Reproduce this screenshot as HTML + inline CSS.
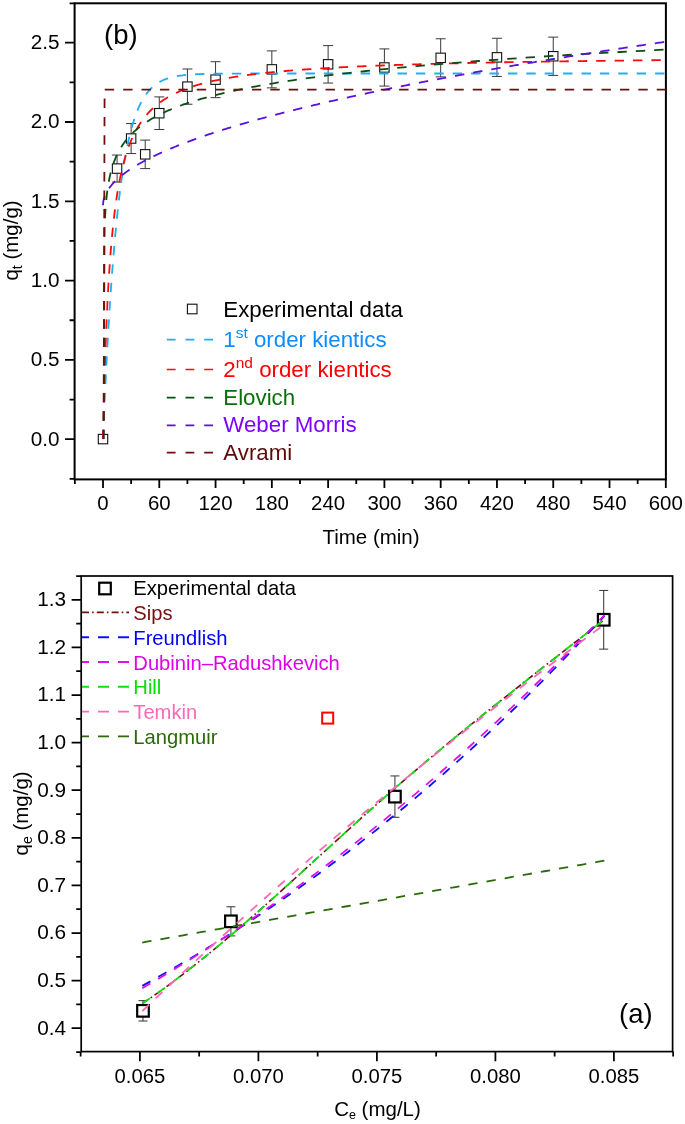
<!DOCTYPE html>
<html lang="en">
<head>
<meta charset="utf-8">
<title>Adsorption kinetics and isotherm models</title>
<style>
html,body{margin:0;padding:0;background:#fff;}
body{width:685px;height:1124px;overflow:hidden;}
svg{display:block;font-family:"Liberation Sans", Arial, Helvetica, sans-serif;will-change:transform;}
</style>
</head>
<body>
<svg width="685" height="1124" viewBox="0 0 685 1124">
<rect width="685" height="1124" fill="#fff"/>
<g id="plot-b">
<rect x="74.6" y="3.3" width="591.3" height="476.1" fill="none" stroke="#000" stroke-width="2.0"/>
<path d="M74.6 478.85h-5M74.6 439.2h-9.6M74.6 399.55h-5M74.6 359.9h-9.6M74.6 320.25h-5M74.6 280.6h-9.6M74.6 240.95h-5M74.6 201.3h-9.6M74.6 161.65h-5M74.6 122h-9.6M74.6 82.35h-5M74.6 42.7h-9.6M74.6 3.3h-5M74.86 479.4v4.6M103 479.4v8.6M131.14 479.4v4.6M159.28 479.4v8.6M187.42 479.4v4.6M215.56 479.4v8.6M243.7 479.4v4.6M271.84 479.4v8.6M299.98 479.4v4.6M328.12 479.4v8.6M356.26 479.4v4.6M384.4 479.4v8.6M412.54 479.4v4.6M440.68 479.4v8.6M468.82 479.4v4.6M496.96 479.4v8.6M525.1 479.4v4.6M553.24 479.4v8.6M581.38 479.4v4.6M609.52 479.4v8.6M637.66 479.4v4.6M665.8 479.4v8.6" fill="none" stroke="#000" stroke-width="1.8"/>
<g font-size="20.4" fill="#000">
<text x="59.4" y="445.6" text-anchor="end" font-size="20.7">0.0</text>
<text x="59.4" y="366.3" text-anchor="end" font-size="20.7">0.5</text>
<text x="59.4" y="287" text-anchor="end" font-size="20.7">1.0</text>
<text x="59.4" y="207.7" text-anchor="end" font-size="20.7">1.5</text>
<text x="59.4" y="128.4" text-anchor="end" font-size="20.7">2.0</text>
<text x="59.4" y="49.1" text-anchor="end" font-size="20.7">2.5</text>
<text x="103" y="510.2" text-anchor="middle">0</text>
<text x="159.28" y="510.2" text-anchor="middle">60</text>
<text x="215.56" y="510.2" text-anchor="middle">120</text>
<text x="271.84" y="510.2" text-anchor="middle">180</text>
<text x="328.12" y="510.2" text-anchor="middle">240</text>
<text x="384.4" y="510.2" text-anchor="middle">300</text>
<text x="440.68" y="510.2" text-anchor="middle">360</text>
<text x="496.96" y="510.2" text-anchor="middle">420</text>
<text x="553.24" y="510.2" text-anchor="middle">480</text>
<text x="609.52" y="510.2" text-anchor="middle">540</text>
<text x="665.8" y="510.2" text-anchor="middle">600</text>
</g>
<text x="371" y="544.3" font-size="20.5" text-anchor="middle">Time (min)</text>
<text transform="translate(17.5 240.5) rotate(-90)" font-size="20.5" text-anchor="middle">q<tspan font-size="14" dy="4">t</tspan><tspan dy="-4"> (mg/g)</tspan></text>
<text x="104" y="44" font-size="27.5">(b)</text>
<path d="M117.07 155.05V182.1M112.07 155.05h10M112.07 182.1h10M131.14 123.49V153.55M126.14 123.49h10M126.14 153.55h10M145.21 140.1V168.58M140.21 140.1h10M140.21 168.58h10M159.28 96.91V129.5M154.28 96.91h10M154.28 129.5h10M187.42 69.01V104.25M182.42 69.01h10M182.42 104.25h10M215.56 61.7V97.64M210.56 61.7h10M210.56 97.64h10M271.84 50.9V87.87M266.84 50.9h10M266.84 87.87h10M328.12 45.59V83.06M323.12 45.59h10M323.12 83.06h10M384.4 48.91V86.07M379.4 48.91h10M379.4 86.07h10M440.68 38.77V76.9M435.68 38.77h10M435.68 76.9h10M496.96 38.28V76.45M491.96 38.28h10M491.96 76.45h10M553.24 37.11V75.4M548.24 37.11h10M548.24 75.4h10" fill="none" stroke="#3a3a3a" stroke-width="1"/>
<rect x="98.3" y="434.4" width="9.4" height="9.4" fill="#fff" stroke="#111" stroke-width="1.1"/>
<rect x="112.37" y="163.88" width="9.4" height="9.4" fill="#fff" stroke="#111" stroke-width="1.1"/>
<rect x="126.44" y="133.82" width="9.4" height="9.4" fill="#fff" stroke="#111" stroke-width="1.1"/>
<rect x="140.51" y="149.64" width="9.4" height="9.4" fill="#fff" stroke="#111" stroke-width="1.1"/>
<rect x="154.58" y="108.51" width="9.4" height="9.4" fill="#fff" stroke="#111" stroke-width="1.1"/>
<rect x="182.72" y="81.93" width="9.4" height="9.4" fill="#fff" stroke="#111" stroke-width="1.1"/>
<rect x="210.86" y="74.97" width="9.4" height="9.4" fill="#fff" stroke="#111" stroke-width="1.1"/>
<rect x="267.14" y="64.69" width="9.4" height="9.4" fill="#fff" stroke="#111" stroke-width="1.1"/>
<rect x="323.42" y="59.62" width="9.4" height="9.4" fill="#fff" stroke="#111" stroke-width="1.1"/>
<rect x="379.7" y="62.79" width="9.4" height="9.4" fill="#fff" stroke="#111" stroke-width="1.1"/>
<rect x="435.98" y="53.14" width="9.4" height="9.4" fill="#fff" stroke="#111" stroke-width="1.1"/>
<rect x="492.26" y="52.66" width="9.4" height="9.4" fill="#fff" stroke="#111" stroke-width="1.1"/>
<rect x="548.54" y="51.56" width="9.4" height="9.4" fill="#fff" stroke="#111" stroke-width="1.1"/>
<path d="M103 439.1 L103.23 433.44 L103.47 427.87 L103.7 422.38 L103.94 416.98 L104.17 411.67 L104.41 406.43 L104.64 401.28 L104.88 396.21 L105.11 391.21 L105.34 386.29 L105.58 381.45 L105.81 376.68 L106.05 371.99 L106.28 367.37 L106.52 362.82 L106.75 358.34 L106.99 353.93 L107.22 349.59 L107.46 345.32 L107.69 341.11 L107.92 336.97 L108.16 332.89 L108.39 328.88 L108.63 324.92 L108.86 321.03 L109.1 317.2 L109.33 313.43 L109.57 309.71 L109.8 306.06 L110.03 302.46 L110.27 298.91 L110.5 295.42 L110.74 291.99 L110.97 288.61 L111.21 285.28 L111.44 282 L111.68 278.77 L111.91 275.6 L112.15 272.47 L112.38 269.39 L112.61 266.36 L112.85 263.37 L113.08 260.43 L113.32 257.54 L113.55 254.69 L113.79 251.88 L114.02 249.12 L114.26 246.4 L114.49 243.73 L114.72 241.09 L114.96 238.5 L115.19 235.94 L115.43 233.43 L115.66 230.95 L115.9 228.52 L116.13 226.12 L116.37 223.76 L116.6 221.43 L116.84 219.14 L117.07 216.89 L117.3 214.67 L117.54 212.48 L117.77 210.33 L118.01 208.21 L118.24 206.13 L118.48 204.07 L118.71 202.05 L118.95 200.06 L119.18 198.1 L119.41 196.18 L119.65 194.28 L119.88 192.41 L120.12 190.57 L120.35 188.75 L120.59 186.97 L120.82 185.21 L121.06 183.48 L121.29 181.78 L121.53 180.11 L121.76 178.46 L121.99 176.83 L122.23 175.23 L122.46 173.66 L122.7 172.11 L122.93 170.58 L123.17 169.08 L123.4 167.6 L123.64 166.14 L123.87 164.71 L124.11 163.3 L124.34 161.91 L124.57 160.54 L124.81 159.19 L125.04 157.86 L125.28 156.56 L125.51 155.27 L125.75 154.01 L125.98 152.76 L126.22 151.53 L126.45 150.33 L126.68 149.14 L126.92 147.97 L127.15 146.81 L127.39 145.68 L127.62 144.56 L127.86 143.46 L128.09 142.38 L128.33 141.31 L128.56 140.26 L128.79 139.23 L129.03 138.21 L129.26 137.21 L129.5 136.22 L129.73 135.25 L129.97 134.3 L130.2 133.36 L130.44 132.43 L130.67 131.52 L130.91 130.62 L131.14 129.73 L131.61 128.01 L132.95 123.36 L134.29 119.11 L135.63 115.23 L136.96 111.67 L138.3 108.42 L139.64 105.44 L140.98 102.72 L142.32 100.23 L143.66 97.95 L145 95.87 L146.34 93.96 L147.67 92.22 L149.01 90.62 L150.35 89.16 L151.69 87.83 L153.03 86.61 L154.37 85.49 L155.71 84.47 L157.05 83.54 L158.39 82.68 L159.72 81.9 L161.06 81.18 L162.4 80.53 L163.74 79.93 L165.08 79.38 L166.42 78.88 L167.76 78.42 L169.1 78 L170.43 77.62 L171.77 77.27 L173.11 76.95 L174.45 76.65 L175.79 76.38 L177.13 76.14 L178.47 75.91 L179.81 75.71 L181.15 75.52 L182.48 75.35 L183.82 75.19 L185.16 75.05 L186.5 74.91 L187.84 74.79 L189.18 74.68 L190.52 74.58 L191.86 74.49 L193.19 74.41 L194.53 74.33 L195.87 74.26 L197.21 74.19 L198.55 74.13 L199.89 74.08 L201.23 74.03 L202.57 73.99 L203.91 73.94 L205.24 73.91 L206.58 73.87 L207.92 73.84 L209.26 73.81 L210.6 73.78 L211.94 73.76 L213.28 73.74 L214.62 73.72 L215.95 73.7 L217.29 73.68 L218.63 73.67 L219.97 73.65 L221.31 73.64 L222.65 73.63 L223.99 73.62 L225.33 73.61 L226.67 73.6 L228 73.59 L229.34 73.58 L230.68 73.57 L232.02 73.57 L233.36 73.56 L234.7 73.56 L236.04 73.55 L237.38 73.55 L238.71 73.54 L240.05 73.54 L241.39 73.54 L242.73 73.53 L244.07 73.53 L245.41 73.53 L246.75 73.53 L248.09 73.52 L249.43 73.52 L250.76 73.52 L252.1 73.52 L253.44 73.52 L254.78 73.51 L256.12 73.51 L257.46 73.51 L258.8 73.51 L260.14 73.51 L261.47 73.51 L262.81 73.51 L264.15 73.51 L265.49 73.51 L266.83 73.51 L268.17 73.51 L269.51 73.51 L270.85 73.5 L272.19 73.5 L273.52 73.5 L274.86 73.5 L276.2 73.5 L277.54 73.5 L278.88 73.5 L280.22 73.5 L281.56 73.5 L282.9 73.5 L284.24 73.5 L285.57 73.5 L286.91 73.5 L288.25 73.5 L289.59 73.5 L290.93 73.5 L292.27 73.5 L293.61 73.5 L294.95 73.5 L296.28 73.5 L297.62 73.5 L298.96 73.5 L300.3 73.5 L301.64 73.5 L302.98 73.5 L304.32 73.5 L305.66 73.5 L307 73.5 L308.33 73.5 L309.67 73.5 L311.01 73.5 L312.35 73.5 L313.69 73.5 L315.03 73.5 L316.37 73.5 L317.71 73.5 L319.04 73.5 L320.38 73.5 L321.72 73.5 L323.06 73.5 L324.4 73.5 L325.74 73.5 L327.08 73.5 L328.42 73.5 L329.76 73.5 L331.09 73.5 L332.43 73.5 L333.77 73.5 L335.11 73.5 L336.45 73.5 L337.79 73.5 L339.13 73.5 L340.47 73.5 L341.8 73.5 L343.14 73.5 L344.48 73.5 L345.82 73.5 L347.16 73.5 L348.5 73.5 L349.84 73.5 L351.18 73.5 L352.52 73.5 L353.85 73.5 L355.19 73.5 L356.53 73.5 L357.87 73.5 L359.21 73.5 L360.55 73.5 L361.89 73.5 L363.23 73.5 L364.56 73.5 L365.9 73.5 L367.24 73.5 L368.58 73.5 L369.92 73.5 L371.26 73.5 L372.6 73.5 L373.94 73.5 L375.28 73.5 L376.61 73.5 L377.95 73.5 L379.29 73.5 L380.63 73.5 L381.97 73.5 L383.31 73.5 L384.65 73.5 L385.99 73.5 L387.32 73.5 L388.66 73.5 L390 73.5 L391.34 73.5 L392.68 73.5 L394.02 73.5 L395.36 73.5 L396.7 73.5 L398.04 73.5 L399.37 73.5 L400.71 73.5 L402.05 73.5 L403.39 73.5 L404.73 73.5 L406.07 73.5 L407.41 73.5 L408.75 73.5 L410.08 73.5 L411.42 73.5 L412.76 73.5 L414.1 73.5 L415.44 73.5 L416.78 73.5 L418.12 73.5 L419.46 73.5 L420.8 73.5 L422.13 73.5 L423.47 73.5 L424.81 73.5 L426.15 73.5 L427.49 73.5 L428.83 73.5 L430.17 73.5 L431.51 73.5 L432.84 73.5 L434.18 73.5 L435.52 73.5 L436.86 73.5 L438.2 73.5 L439.54 73.5 L440.88 73.5 L442.22 73.5 L443.56 73.5 L444.89 73.5 L446.23 73.5 L447.57 73.5 L448.91 73.5 L450.25 73.5 L451.59 73.5 L452.93 73.5 L454.27 73.5 L455.6 73.5 L456.94 73.5 L458.28 73.5 L459.62 73.5 L460.96 73.5 L462.3 73.5 L463.64 73.5 L464.98 73.5 L466.32 73.5 L467.65 73.5 L468.99 73.5 L470.33 73.5 L471.67 73.5 L473.01 73.5 L474.35 73.5 L475.69 73.5 L477.03 73.5 L478.36 73.5 L479.7 73.5 L481.04 73.5 L482.38 73.5 L483.72 73.5 L485.06 73.5 L486.4 73.5 L487.74 73.5 L489.08 73.5 L490.41 73.5 L491.75 73.5 L493.09 73.5 L494.43 73.5 L495.77 73.5 L497.11 73.5 L498.45 73.5 L499.79 73.5 L501.12 73.5 L502.46 73.5 L503.8 73.5 L505.14 73.5 L506.48 73.5 L507.82 73.5 L509.16 73.5 L510.5 73.5 L511.84 73.5 L513.17 73.5 L514.51 73.5 L515.85 73.5 L517.19 73.5 L518.53 73.5 L519.87 73.5 L521.21 73.5 L522.55 73.5 L523.88 73.5 L525.22 73.5 L526.56 73.5 L527.9 73.5 L529.24 73.5 L530.58 73.5 L531.92 73.5 L533.26 73.5 L534.6 73.5 L535.93 73.5 L537.27 73.5 L538.61 73.5 L539.95 73.5 L541.29 73.5 L542.63 73.5 L543.97 73.5 L545.31 73.5 L546.64 73.5 L547.98 73.5 L549.32 73.5 L550.66 73.5 L552 73.5 L553.34 73.5 L554.68 73.5 L556.02 73.5 L557.36 73.5 L558.69 73.5 L560.03 73.5 L561.37 73.5 L562.71 73.5 L564.05 73.5 L565.39 73.5 L566.73 73.5 L568.07 73.5 L569.4 73.5 L570.74 73.5 L572.08 73.5 L573.42 73.5 L574.76 73.5 L576.1 73.5 L577.44 73.5 L578.78 73.5 L580.12 73.5 L581.45 73.5 L582.79 73.5 L584.13 73.5 L585.47 73.5 L586.81 73.5 L588.15 73.5 L589.49 73.5 L590.83 73.5 L592.16 73.5 L593.5 73.5 L594.84 73.5 L596.18 73.5 L597.52 73.5 L598.86 73.5 L600.2 73.5 L601.54 73.5 L602.88 73.5 L604.21 73.5 L605.55 73.5 L606.89 73.5 L608.23 73.5 L609.57 73.5 L610.91 73.5 L612.25 73.5 L613.59 73.5 L614.92 73.5 L616.26 73.5 L617.6 73.5 L618.94 73.5 L620.28 73.5 L621.62 73.5 L622.96 73.5 L624.3 73.5 L625.64 73.5 L626.97 73.5 L628.31 73.5 L629.65 73.5 L630.99 73.5 L632.33 73.5 L633.67 73.5 L635.01 73.5 L636.35 73.5 L637.68 73.5 L639.02 73.5 L640.36 73.5 L641.7 73.5 L643.04 73.5 L644.38 73.5 L645.72 73.5 L647.06 73.5 L648.4 73.5 L649.73 73.5 L651.07 73.5 L652.41 73.5 L653.75 73.5 L655.09 73.5 L656.43 73.5 L657.77 73.5 L659.11 73.5 L660.44 73.5 L661.78 73.5 L663.12 73.5 L664.46 73.5 L665.8 73.5" fill="none" stroke="#1eaefa" stroke-width="1.8" stroke-dasharray="9.4 9.0"/>
<path d="M103 439.1 L103.23 428.27 L103.47 418.03 L103.7 408.33 L103.94 399.14 L104.17 390.42 L104.41 382.12 L104.64 374.23 L104.88 366.71 L105.11 359.53 L105.34 352.68 L105.58 346.13 L105.81 339.86 L106.05 333.85 L106.28 328.09 L106.52 322.57 L106.75 317.26 L106.99 312.16 L107.22 307.25 L107.46 302.53 L107.69 297.98 L107.92 293.6 L108.16 289.37 L108.39 285.28 L108.63 281.34 L108.86 277.53 L109.1 273.85 L109.33 270.28 L109.57 266.83 L109.8 263.49 L110.03 260.25 L110.27 257.11 L110.5 254.07 L110.74 251.11 L110.97 248.24 L111.21 245.46 L111.44 242.75 L111.68 240.12 L111.91 237.56 L112.15 235.07 L112.38 232.65 L112.61 230.29 L112.85 228 L113.08 225.76 L113.32 223.58 L113.55 221.45 L113.79 219.38 L114.02 217.36 L114.26 215.39 L114.49 213.46 L114.72 211.58 L114.96 209.75 L115.19 207.95 L115.43 206.2 L115.66 204.49 L115.9 202.82 L116.13 201.18 L116.37 199.58 L116.6 198.01 L116.84 196.48 L117.07 194.98 L117.3 193.51 L117.54 192.07 L117.77 190.66 L118.01 189.28 L118.24 187.92 L118.48 186.6 L118.71 185.3 L118.95 184.02 L119.18 182.77 L119.41 181.55 L119.65 180.34 L119.88 179.16 L120.12 178.01 L120.35 176.87 L120.59 175.75 L120.82 174.66 L121.06 173.58 L121.29 172.52 L121.53 171.49 L121.76 170.46 L121.99 169.46 L122.23 168.48 L122.46 167.51 L122.7 166.56 L122.93 165.62 L123.17 164.7 L123.4 163.79 L123.64 162.9 L123.87 162.03 L124.11 161.16 L124.34 160.31 L124.57 159.48 L124.81 158.66 L125.04 157.85 L125.28 157.05 L125.51 156.27 L125.75 155.49 L125.98 154.73 L126.22 153.98 L126.45 153.24 L126.68 152.52 L126.92 151.8 L127.15 151.09 L127.39 150.4 L127.62 149.71 L127.86 149.03 L128.09 148.37 L128.33 147.71 L128.56 147.06 L128.79 146.42 L129.03 145.79 L129.26 145.17 L129.5 144.56 L129.73 143.95 L129.97 143.35 L130.2 142.76 L130.44 142.18 L130.67 141.61 L130.91 141.04 L131.14 140.48 L131.61 139.39 L132.95 136.4 L134.29 133.63 L135.63 131.03 L136.96 128.6 L138.3 126.32 L139.64 124.17 L140.98 122.15 L142.32 120.25 L143.66 118.45 L145 116.74 L146.34 115.13 L147.67 113.59 L149.01 112.13 L150.35 110.75 L151.69 109.42 L153.03 108.16 L154.37 106.96 L155.71 105.81 L157.05 104.7 L158.39 103.65 L159.72 102.64 L161.06 101.67 L162.4 100.73 L163.74 99.84 L165.08 98.98 L166.42 98.15 L167.76 97.35 L169.1 96.58 L170.43 95.84 L171.77 95.12 L173.11 94.43 L174.45 93.76 L175.79 93.11 L177.13 92.48 L178.47 91.88 L179.81 91.29 L181.15 90.72 L182.48 90.17 L183.82 89.64 L185.16 89.12 L186.5 88.61 L187.84 88.13 L189.18 87.65 L190.52 87.19 L191.86 86.74 L193.19 86.3 L194.53 85.88 L195.87 85.46 L197.21 85.06 L198.55 84.67 L199.89 84.29 L201.23 83.91 L202.57 83.55 L203.91 83.19 L205.24 82.85 L206.58 82.51 L207.92 82.18 L209.26 81.86 L210.6 81.54 L211.94 81.24 L213.28 80.94 L214.62 80.64 L215.95 80.36 L217.29 80.07 L218.63 79.8 L219.97 79.53 L221.31 79.27 L222.65 79.01 L223.99 78.76 L225.33 78.51 L226.67 78.27 L228 78.03 L229.34 77.8 L230.68 77.57 L232.02 77.35 L233.36 77.13 L234.7 76.91 L236.04 76.7 L237.38 76.49 L238.71 76.29 L240.05 76.09 L241.39 75.9 L242.73 75.7 L244.07 75.51 L245.41 75.33 L246.75 75.15 L248.09 74.97 L249.43 74.79 L250.76 74.62 L252.1 74.45 L253.44 74.28 L254.78 74.12 L256.12 73.96 L257.46 73.8 L258.8 73.64 L260.14 73.49 L261.47 73.34 L262.81 73.19 L264.15 73.04 L265.49 72.9 L266.83 72.76 L268.17 72.62 L269.51 72.48 L270.85 72.34 L272.19 72.21 L273.52 72.08 L274.86 71.95 L276.2 71.82 L277.54 71.7 L278.88 71.57 L280.22 71.45 L281.56 71.33 L282.9 71.21 L284.24 71.09 L285.57 70.98 L286.91 70.86 L288.25 70.75 L289.59 70.64 L290.93 70.53 L292.27 70.43 L293.61 70.32 L294.95 70.21 L296.28 70.11 L297.62 70.01 L298.96 69.91 L300.3 69.81 L301.64 69.71 L302.98 69.61 L304.32 69.52 L305.66 69.42 L307 69.33 L308.33 69.24 L309.67 69.15 L311.01 69.06 L312.35 68.97 L313.69 68.88 L315.03 68.8 L316.37 68.71 L317.71 68.63 L319.04 68.54 L320.38 68.46 L321.72 68.38 L323.06 68.3 L324.4 68.22 L325.74 68.14 L327.08 68.06 L328.42 67.99 L329.76 67.91 L331.09 67.84 L332.43 67.76 L333.77 67.69 L335.11 67.62 L336.45 67.54 L337.79 67.47 L339.13 67.4 L340.47 67.33 L341.8 67.26 L343.14 67.2 L344.48 67.13 L345.82 67.06 L347.16 67 L348.5 66.93 L349.84 66.87 L351.18 66.8 L352.52 66.74 L353.85 66.68 L355.19 66.62 L356.53 66.56 L357.87 66.5 L359.21 66.44 L360.55 66.38 L361.89 66.32 L363.23 66.26 L364.56 66.2 L365.9 66.15 L367.24 66.09 L368.58 66.03 L369.92 65.98 L371.26 65.92 L372.6 65.87 L373.94 65.81 L375.28 65.76 L376.61 65.71 L377.95 65.66 L379.29 65.61 L380.63 65.55 L381.97 65.5 L383.31 65.45 L384.65 65.4 L385.99 65.35 L387.32 65.3 L388.66 65.26 L390 65.21 L391.34 65.16 L392.68 65.11 L394.02 65.07 L395.36 65.02 L396.7 64.97 L398.04 64.93 L399.37 64.88 L400.71 64.84 L402.05 64.8 L403.39 64.75 L404.73 64.71 L406.07 64.66 L407.41 64.62 L408.75 64.58 L410.08 64.54 L411.42 64.5 L412.76 64.45 L414.1 64.41 L415.44 64.37 L416.78 64.33 L418.12 64.29 L419.46 64.25 L420.8 64.21 L422.13 64.17 L423.47 64.14 L424.81 64.1 L426.15 64.06 L427.49 64.02 L428.83 63.98 L430.17 63.95 L431.51 63.91 L432.84 63.87 L434.18 63.84 L435.52 63.8 L436.86 63.76 L438.2 63.73 L439.54 63.69 L440.88 63.66 L442.22 63.62 L443.56 63.59 L444.89 63.56 L446.23 63.52 L447.57 63.49 L448.91 63.46 L450.25 63.42 L451.59 63.39 L452.93 63.36 L454.27 63.32 L455.6 63.29 L456.94 63.26 L458.28 63.23 L459.62 63.2 L460.96 63.17 L462.3 63.14 L463.64 63.1 L464.98 63.07 L466.32 63.04 L467.65 63.01 L468.99 62.98 L470.33 62.95 L471.67 62.92 L473.01 62.9 L474.35 62.87 L475.69 62.84 L477.03 62.81 L478.36 62.78 L479.7 62.75 L481.04 62.72 L482.38 62.7 L483.72 62.67 L485.06 62.64 L486.4 62.61 L487.74 62.59 L489.08 62.56 L490.41 62.53 L491.75 62.51 L493.09 62.48 L494.43 62.45 L495.77 62.43 L497.11 62.4 L498.45 62.38 L499.79 62.35 L501.12 62.33 L502.46 62.3 L503.8 62.28 L505.14 62.25 L506.48 62.23 L507.82 62.2 L509.16 62.18 L510.5 62.15 L511.84 62.13 L513.17 62.11 L514.51 62.08 L515.85 62.06 L517.19 62.04 L518.53 62.01 L519.87 61.99 L521.21 61.97 L522.55 61.94 L523.88 61.92 L525.22 61.9 L526.56 61.88 L527.9 61.85 L529.24 61.83 L530.58 61.81 L531.92 61.79 L533.26 61.77 L534.6 61.74 L535.93 61.72 L537.27 61.7 L538.61 61.68 L539.95 61.66 L541.29 61.64 L542.63 61.62 L543.97 61.6 L545.31 61.58 L546.64 61.56 L547.98 61.54 L549.32 61.51 L550.66 61.49 L552 61.47 L553.34 61.45 L554.68 61.44 L556.02 61.42 L557.36 61.4 L558.69 61.38 L560.03 61.36 L561.37 61.34 L562.71 61.32 L564.05 61.3 L565.39 61.28 L566.73 61.26 L568.07 61.24 L569.4 61.23 L570.74 61.21 L572.08 61.19 L573.42 61.17 L574.76 61.15 L576.1 61.13 L577.44 61.12 L578.78 61.1 L580.12 61.08 L581.45 61.06 L582.79 61.05 L584.13 61.03 L585.47 61.01 L586.81 60.99 L588.15 60.98 L589.49 60.96 L590.83 60.94 L592.16 60.93 L593.5 60.91 L594.84 60.89 L596.18 60.88 L597.52 60.86 L598.86 60.84 L600.2 60.83 L601.54 60.81 L602.88 60.79 L604.21 60.78 L605.55 60.76 L606.89 60.75 L608.23 60.73 L609.57 60.71 L610.91 60.7 L612.25 60.68 L613.59 60.67 L614.92 60.65 L616.26 60.64 L617.6 60.62 L618.94 60.61 L620.28 60.59 L621.62 60.58 L622.96 60.56 L624.3 60.55 L625.64 60.53 L626.97 60.52 L628.31 60.5 L629.65 60.49 L630.99 60.47 L632.33 60.46 L633.67 60.44 L635.01 60.43 L636.35 60.42 L637.68 60.4 L639.02 60.39 L640.36 60.37 L641.7 60.36 L643.04 60.35 L644.38 60.33 L645.72 60.32 L647.06 60.3 L648.4 60.29 L649.73 60.28 L651.07 60.26 L652.41 60.25 L653.75 60.24 L655.09 60.22 L656.43 60.21 L657.77 60.2 L659.11 60.18 L660.44 60.17 L661.78 60.16 L663.12 60.14 L664.46 60.13 L665.8 60.12" fill="none" stroke="#ff0a0a" stroke-width="1.8" stroke-dasharray="9.4 9.0"/>
<path d="M103.6 439.1 L104.54 229.71 L104.56 229.1 L104.58 228.5 L104.6 227.9 L104.62 227.3 L104.64 226.69 L104.67 226.09 L104.69 225.49 L104.71 224.89 L104.74 224.28 L104.76 223.68 L104.79 223.08 L104.81 222.48 L104.84 221.87 L104.87 221.27 L104.89 220.67 L104.92 220.07 L104.95 219.46 L104.98 218.86 L105.01 218.26 L105.04 217.66 L105.07 217.05 L105.1 216.45 L105.13 215.85 L105.17 215.25 L105.2 214.65 L105.24 214.04 L105.27 213.44 L105.31 212.84 L105.34 212.24 L105.38 211.63 L105.42 211.03 L105.46 210.43 L105.5 209.83 L105.54 209.22 L105.58 208.62 L105.63 208.02 L105.67 207.42 L105.71 206.81 L105.76 206.21 L105.81 205.61 L105.86 205.01 L105.9 204.4 L105.95 203.8 L106 203.2 L106.06 202.6 L106.11 201.99 L106.16 201.39 L106.22 200.79 L106.28 200.19 L106.33 199.58 L106.39 198.98 L106.45 198.38 L106.52 197.78 L106.58 197.17 L106.64 196.57 L106.71 195.97 L106.78 195.37 L106.84 194.76 L106.91 194.16 L106.99 193.56 L107.06 192.96 L107.13 192.35 L107.21 191.75 L107.29 191.15 L107.37 190.55 L107.45 189.94 L107.53 189.34 L107.62 188.74 L107.71 188.14 L107.79 187.53 L107.88 186.93 L107.98 186.33 L108.07 185.73 L108.17 185.12 L108.27 184.52 L108.37 183.92 L108.47 183.32 L108.58 182.71 L108.68 182.11 L108.79 181.51 L108.91 180.91 L109.02 180.3 L109.14 179.7 L109.26 179.1 L109.38 178.5 L109.51 177.9 L109.63 177.29 L109.76 176.69 L109.9 176.09 L110.03 175.49 L110.17 174.88 L110.31 174.28 L110.46 173.68 L110.61 173.08 L110.76 172.47 L110.91 171.87 L111.07 171.27 L111.23 170.67 L111.4 170.06 L111.57 169.46 L111.74 168.86 L111.92 168.26 L112.1 167.65 L112.28 167.05 L112.47 166.45 L112.66 165.85 L112.86 165.24 L113.06 164.64 L113.26 164.04 L113.47 163.44 L113.68 162.83 L113.9 162.23 L114.12 161.63 L114.35 161.03 L114.58 160.42 L114.82 159.82 L115.06 159.22 L115.31 158.62 L115.56 158.01 L115.82 157.41 L116.09 156.81 L116.36 156.21 L116.63 155.6 L116.92 155 L117.2 154.4 L117.5 153.8 L117.8 153.19 L118.1 152.59 L118.42 151.99 L118.74 151.39 L119.07 150.78 L119.4 150.18 L119.74 149.58 L120.09 148.98 L120.45 148.37 L120.81 147.77 L121.18 147.17 L121.56 146.57 L121.95 145.96 L122.35 145.36 L122.76 144.76 L123.17 144.16 L123.59 143.55 L124.03 142.95 L124.47 142.35 L124.92 141.75 L125.38 141.15 L125.85 140.54 L126.33 139.94 L126.82 139.34 L127.33 138.74 L127.84 138.13 L128.36 137.53 L128.9 136.93 L129.45 136.33 L130 135.72 L130.58 135.12 L131.16 134.52 L131.75 133.92 L132.36 133.31 L132.99 132.71 L133.62 132.11 L134.27 131.51 L134.93 130.9 L135.61 130.3 L136.3 129.7 L137.01 129.1 L137.73 128.49 L138.47 127.89 L139.22 127.29 L140 126.69 L140.78 126.08 L141.59 125.48 L142.41 124.88 L143.25 124.28 L144.1 123.67 L144.98 123.07 L145.88 122.47 L146.79 121.87 L147.72 121.26 L148.68 120.66 L149.65 120.06 L150.65 119.46 L151.67 118.85 L152.71 118.25 L153.77 117.65 L154.85 117.05 L155.96 116.44 L157.09 115.84 L158.25 115.24 L159.43 114.64 L160.64 114.03 L161.87 113.43 L163.13 112.83 L164.42 112.23 L165.73 111.62 L167.08 111.02 L168.45 110.42 L169.85 109.82 L171.29 109.21 L172.75 108.61 L174.24 108.01 L175.77 107.41 L177.33 106.81 L178.93 106.2 L180.56 105.6 L182.22 105 L183.92 104.4 L185.66 103.79 L187.43 103.19 L189.25 102.59 L191.1 101.99 L192.99 101.38 L194.92 100.78 L196.9 100.18 L198.92 99.58 L200.98 98.97 L203.08 98.37 L205.23 97.77 L207.43 97.17 L209.68 96.56 L211.97 95.96 L214.31 95.36 L216.71 94.76 L219.15 94.15 L221.65 93.55 L224.21 92.95 L226.81 92.35 L229.48 91.74 L232.2 91.14 L234.98 90.54 L237.82 89.94 L240.73 89.33 L243.69 88.73 L246.72 88.13 L249.81 87.53 L252.98 86.92 L256.21 86.32 L259.51 85.72 L262.88 85.12 L266.32 84.51 L269.84 83.91 L273.44 83.31 L277.11 82.71 L280.86 82.1 L284.69 81.5 L288.61 80.9 L292.61 80.3 L296.7 79.69 L300.87 79.09 L305.14 78.49 L309.5 77.89 L313.95 77.28 L318.5 76.68 L323.15 76.08 L327.9 75.48 L332.75 74.87 L337.7 74.27 L342.76 73.67 L347.94 73.07 L353.22 72.46 L358.62 71.86 L364.13 71.26 L369.77 70.66 L375.52 70.06 L381.4 69.45 L387.41 68.85 L393.55 68.25 L399.82 67.65 L406.22 67.04 L412.77 66.44 L419.45 65.84 L426.28 65.24 L433.26 64.63 L440.39 64.03 L447.67 63.43 L455.11 62.83 L462.71 62.22 L470.48 61.62 L478.41 61.02 L486.52 60.42 L494.8 59.81 L503.26 59.21 L511.9 58.61 L520.73 58.01 L529.75 57.4 L538.97 56.8 L548.38 56.2 L558 55.6 L567.83 54.99 L577.87 54.39 L588.12 53.79 L598.6 53.19 L609.3 52.58 L620.24 51.98 L631.41 51.38 L642.83 50.78 L654.49 50.17 L666.4 49.57" fill="none" stroke="#0b4f13" stroke-width="1.8" stroke-dasharray="9.4 9.0"/>
<path d="M103 205.28 L103.23 201.94 L103.47 200.56 L103.7 199.5 L103.94 198.6 L104.17 197.82 L104.41 197.1 L104.64 196.45 L104.88 195.84 L105.11 195.27 L105.34 194.72 L105.58 194.21 L105.81 193.72 L106.05 193.24 L106.28 192.79 L106.52 192.35 L106.75 191.93 L106.99 191.52 L107.22 191.12 L107.46 190.73 L107.69 190.35 L107.92 189.98 L108.16 189.62 L108.39 189.27 L108.63 188.93 L108.86 188.59 L109.1 188.26 L109.33 187.94 L109.57 187.62 L109.8 187.3 L110.03 187 L110.27 186.7 L110.5 186.4 L110.74 186.1 L110.97 185.82 L111.21 185.53 L111.44 185.25 L111.68 184.98 L111.91 184.7 L112.15 184.43 L112.38 184.17 L112.61 183.91 L112.85 183.65 L113.08 183.39 L113.32 183.14 L113.55 182.89 L113.79 182.64 L114.02 182.4 L114.26 182.15 L114.49 181.91 L114.72 181.68 L114.96 181.44 L115.19 181.21 L115.43 180.98 L115.66 180.75 L115.9 180.52 L116.13 180.3 L116.37 180.08 L116.6 179.86 L116.84 179.64 L117.07 179.42 L117.3 179.21 L117.54 179 L117.77 178.79 L118.01 178.58 L118.24 178.37 L118.48 178.16 L118.71 177.96 L118.95 177.75 L119.18 177.55 L119.41 177.35 L119.65 177.15 L119.88 176.96 L120.12 176.76 L120.35 176.57 L120.59 176.37 L120.82 176.18 L121.06 175.99 L121.29 175.8 L121.53 175.61 L121.76 175.42 L121.99 175.24 L122.23 175.05 L122.46 174.87 L122.7 174.69 L122.93 174.51 L123.17 174.32 L123.4 174.15 L123.64 173.97 L123.87 173.79 L124.11 173.61 L124.34 173.44 L124.57 173.26 L124.81 173.09 L125.04 172.92 L125.28 172.75 L125.51 172.57 L125.75 172.4 L125.98 172.24 L126.22 172.07 L126.45 171.9 L126.68 171.73 L126.92 171.57 L127.15 171.4 L127.39 171.24 L127.62 171.08 L127.86 170.91 L128.09 170.75 L128.33 170.59 L128.56 170.43 L128.79 170.27 L129.03 170.11 L129.26 169.95 L129.5 169.8 L129.73 169.64 L129.97 169.48 L130.2 169.33 L130.44 169.17 L130.67 169.02 L130.91 168.87 L131.14 168.71 L131.61 168.41 L132.95 167.56 L134.29 166.72 L135.63 165.91 L136.96 165.11 L138.3 164.32 L139.64 163.55 L140.98 162.8 L142.32 162.06 L143.66 161.33 L145 160.61 L146.34 159.9 L147.67 159.21 L149.01 158.52 L150.35 157.85 L151.69 157.18 L153.03 156.52 L154.37 155.88 L155.71 155.24 L157.05 154.6 L158.39 153.98 L159.72 153.36 L161.06 152.76 L162.4 152.15 L163.74 151.56 L165.08 150.97 L166.42 150.39 L167.76 149.81 L169.1 149.24 L170.43 148.67 L171.77 148.12 L173.11 147.56 L174.45 147.01 L175.79 146.47 L177.13 145.93 L178.47 145.4 L179.81 144.87 L181.15 144.35 L182.48 143.83 L183.82 143.31 L185.16 142.8 L186.5 142.29 L187.84 141.79 L189.18 141.29 L190.52 140.79 L191.86 140.3 L193.19 139.82 L194.53 139.33 L195.87 138.85 L197.21 138.37 L198.55 137.9 L199.89 137.43 L201.23 136.96 L202.57 136.5 L203.91 136.04 L205.24 135.58 L206.58 135.12 L207.92 134.67 L209.26 134.22 L210.6 133.78 L211.94 133.33 L213.28 132.89 L214.62 132.46 L215.95 132.02 L217.29 131.59 L218.63 131.16 L219.97 130.73 L221.31 130.3 L222.65 129.88 L223.99 129.46 L225.33 129.04 L226.67 128.63 L228 128.21 L229.34 127.8 L230.68 127.39 L232.02 126.98 L233.36 126.58 L234.7 126.17 L236.04 125.77 L237.38 125.37 L238.71 124.98 L240.05 124.58 L241.39 124.19 L242.73 123.8 L244.07 123.41 L245.41 123.02 L246.75 122.64 L248.09 122.25 L249.43 121.87 L250.76 121.49 L252.1 121.11 L253.44 120.73 L254.78 120.36 L256.12 119.98 L257.46 119.61 L258.8 119.24 L260.14 118.87 L261.47 118.5 L262.81 118.14 L264.15 117.77 L265.49 117.41 L266.83 117.05 L268.17 116.69 L269.51 116.33 L270.85 115.98 L272.19 115.62 L273.52 115.27 L274.86 114.91 L276.2 114.56 L277.54 114.21 L278.88 113.86 L280.22 113.52 L281.56 113.17 L282.9 112.83 L284.24 112.48 L285.57 112.14 L286.91 111.8 L288.25 111.46 L289.59 111.12 L290.93 110.78 L292.27 110.45 L293.61 110.11 L294.95 109.78 L296.28 109.45 L297.62 109.12 L298.96 108.79 L300.3 108.46 L301.64 108.13 L302.98 107.8 L304.32 107.48 L305.66 107.15 L307 106.83 L308.33 106.51 L309.67 106.18 L311.01 105.86 L312.35 105.54 L313.69 105.23 L315.03 104.91 L316.37 104.59 L317.71 104.28 L319.04 103.96 L320.38 103.65 L321.72 103.34 L323.06 103.02 L324.4 102.71 L325.74 102.4 L327.08 102.1 L328.42 101.79 L329.76 101.48 L331.09 101.17 L332.43 100.87 L333.77 100.57 L335.11 100.26 L336.45 99.96 L337.79 99.66 L339.13 99.36 L340.47 99.06 L341.8 98.76 L343.14 98.46 L344.48 98.16 L345.82 97.87 L347.16 97.57 L348.5 97.28 L349.84 96.98 L351.18 96.69 L352.52 96.4 L353.85 96.1 L355.19 95.81 L356.53 95.52 L357.87 95.23 L359.21 94.95 L360.55 94.66 L361.89 94.37 L363.23 94.08 L364.56 93.8 L365.9 93.51 L367.24 93.23 L368.58 92.95 L369.92 92.66 L371.26 92.38 L372.6 92.1 L373.94 91.82 L375.28 91.54 L376.61 91.26 L377.95 90.98 L379.29 90.7 L380.63 90.43 L381.97 90.15 L383.31 89.87 L384.65 89.6 L385.99 89.32 L387.32 89.05 L388.66 88.78 L390 88.5 L391.34 88.23 L392.68 87.96 L394.02 87.69 L395.36 87.42 L396.7 87.15 L398.04 86.88 L399.37 86.61 L400.71 86.34 L402.05 86.08 L403.39 85.81 L404.73 85.54 L406.07 85.28 L407.41 85.01 L408.75 84.75 L410.08 84.49 L411.42 84.22 L412.76 83.96 L414.1 83.7 L415.44 83.44 L416.78 83.18 L418.12 82.92 L419.46 82.66 L420.8 82.4 L422.13 82.14 L423.47 81.88 L424.81 81.62 L426.15 81.37 L427.49 81.11 L428.83 80.85 L430.17 80.6 L431.51 80.34 L432.84 80.09 L434.18 79.84 L435.52 79.58 L436.86 79.33 L438.2 79.08 L439.54 78.83 L440.88 78.57 L442.22 78.32 L443.56 78.07 L444.89 77.82 L446.23 77.57 L447.57 77.33 L448.91 77.08 L450.25 76.83 L451.59 76.58 L452.93 76.33 L454.27 76.09 L455.6 75.84 L456.94 75.6 L458.28 75.35 L459.62 75.11 L460.96 74.86 L462.3 74.62 L463.64 74.38 L464.98 74.13 L466.32 73.89 L467.65 73.65 L468.99 73.41 L470.33 73.17 L471.67 72.93 L473.01 72.69 L474.35 72.45 L475.69 72.21 L477.03 71.97 L478.36 71.73 L479.7 71.49 L481.04 71.25 L482.38 71.02 L483.72 70.78 L485.06 70.54 L486.4 70.31 L487.74 70.07 L489.08 69.84 L490.41 69.6 L491.75 69.37 L493.09 69.14 L494.43 68.9 L495.77 68.67 L497.11 68.44 L498.45 68.2 L499.79 67.97 L501.12 67.74 L502.46 67.51 L503.8 67.28 L505.14 67.05 L506.48 66.82 L507.82 66.59 L509.16 66.36 L510.5 66.13 L511.84 65.9 L513.17 65.68 L514.51 65.45 L515.85 65.22 L517.19 64.99 L518.53 64.77 L519.87 64.54 L521.21 64.31 L522.55 64.09 L523.88 63.86 L525.22 63.64 L526.56 63.42 L527.9 63.19 L529.24 62.97 L530.58 62.74 L531.92 62.52 L533.26 62.3 L534.6 62.08 L535.93 61.85 L537.27 61.63 L538.61 61.41 L539.95 61.19 L541.29 60.97 L542.63 60.75 L543.97 60.53 L545.31 60.31 L546.64 60.09 L547.98 59.87 L549.32 59.65 L550.66 59.44 L552 59.22 L553.34 59 L554.68 58.78 L556.02 58.57 L557.36 58.35 L558.69 58.13 L560.03 57.92 L561.37 57.7 L562.71 57.49 L564.05 57.27 L565.39 57.06 L566.73 56.84 L568.07 56.63 L569.4 56.41 L570.74 56.2 L572.08 55.99 L573.42 55.77 L574.76 55.56 L576.1 55.35 L577.44 55.14 L578.78 54.93 L580.12 54.71 L581.45 54.5 L582.79 54.29 L584.13 54.08 L585.47 53.87 L586.81 53.66 L588.15 53.45 L589.49 53.24 L590.83 53.03 L592.16 52.82 L593.5 52.62 L594.84 52.41 L596.18 52.2 L597.52 51.99 L598.86 51.78 L600.2 51.58 L601.54 51.37 L602.88 51.16 L604.21 50.96 L605.55 50.75 L606.89 50.55 L608.23 50.34 L609.57 50.14 L610.91 49.93 L612.25 49.73 L613.59 49.52 L614.92 49.32 L616.26 49.11 L617.6 48.91 L618.94 48.71 L620.28 48.5 L621.62 48.3 L622.96 48.1 L624.3 47.9 L625.64 47.69 L626.97 47.49 L628.31 47.29 L629.65 47.09 L630.99 46.89 L632.33 46.69 L633.67 46.49 L635.01 46.29 L636.35 46.09 L637.68 45.89 L639.02 45.69 L640.36 45.49 L641.7 45.29 L643.04 45.09 L644.38 44.89 L645.72 44.7 L647.06 44.5 L648.4 44.3 L649.73 44.1 L651.07 43.91 L652.41 43.71 L653.75 43.51 L655.09 43.32 L656.43 43.12 L657.77 42.92 L659.11 42.73 L660.44 42.53 L661.78 42.34 L663.12 42.14 L664.46 41.95 L665.8 41.75" fill="none" stroke="#5a10e0" stroke-width="1.8" stroke-dasharray="9.4 9.0"/>
<path d="M103.6 439.1 L104.6 89.64 L665.8 89.64" fill="none" stroke="#6e1010" stroke-width="1.8" stroke-dasharray="9.4 9.0"/>
<rect x="187.4" y="304.2" width="9.6" height="9.6" fill="#fff" stroke="#111" stroke-width="1.1"/>
<text x="223.3" y="316.6" font-size="22.3">Experimental data</text>
<path d="M166.8 339.6H213" stroke="#1eaefa" stroke-width="1.7" stroke-dasharray="8.8 9.9" fill="none"/>
<text x="223.3" y="347.4" font-size="22.3" fill="#0d8cff">1<tspan font-size="15.5" dy="-9">st</tspan><tspan dy="9"> order kientics</tspan></text>
<path d="M166.8 369.5H213" stroke="#ff0a0a" stroke-width="1.7" stroke-dasharray="8.8 9.9" fill="none"/>
<text x="223.3" y="377" font-size="22.3" fill="#ff0000">2<tspan font-size="15.5" dy="-9">nd</tspan><tspan dy="9"> order kientics</tspan></text>
<path d="M166.8 397.6H213" stroke="#0b4f13" stroke-width="1.7" stroke-dasharray="8.8 9.9" fill="none"/>
<text x="223.3" y="405" font-size="22.3" fill="#0a6e0a">Elovich</text>
<path d="M166.8 425.4H213" stroke="#5a10e0" stroke-width="1.7" stroke-dasharray="8.8 9.9" fill="none"/>
<text x="223.3" y="432.4" font-size="22.3" fill="#7f00ff">Weber Morris</text>
<path d="M166.8 452.7H213" stroke="#6e1010" stroke-width="1.7" stroke-dasharray="8.8 9.9" fill="none"/>
<text x="223.3" y="459.8" font-size="22.3" fill="#5e0a0a">Avrami</text>
</g>
<g id="plot-a">
<rect x="81.2" y="576" width="591.4" height="475.6" fill="none" stroke="#000" stroke-width="1.7"/>
<path d="M81.2 1052h-5M81.2 1028.2h-9.6M81.2 1004.4h-5M81.2 980.6h-9.6M81.2 956.8h-5M81.2 933h-9.6M81.2 909.2h-5M81.2 885.4h-9.6M81.2 861.6h-5M81.2 837.8h-9.6M81.2 814h-5M81.2 790.2h-9.6M81.2 766.4h-5M81.2 742.6h-9.6M81.2 718.8h-5M81.2 695h-9.6M81.2 671.2h-5M81.2 647.4h-9.6M81.2 623.6h-5M81.2 599.8h-9.6M81.2 576h-5M80.65 1051.6v5M139.9 1051.6v9.6M199.15 1051.6v5M258.4 1051.6v9.6M317.65 1051.6v5M376.9 1051.6v9.6M436.15 1051.6v5M495.4 1051.6v9.6M554.65 1051.6v5M613.9 1051.6v9.6M673.15 1051.6v5" fill="none" stroke="#000" stroke-width="1.75"/>
<g font-size="20.3" fill="#000">
<text x="66.2" y="1034.6" text-anchor="end" font-size="20.8">0.4</text>
<text x="66.2" y="987" text-anchor="end" font-size="20.8">0.5</text>
<text x="66.2" y="939.4" text-anchor="end" font-size="20.8">0.6</text>
<text x="66.2" y="891.8" text-anchor="end" font-size="20.8">0.7</text>
<text x="66.2" y="844.2" text-anchor="end" font-size="20.8">0.8</text>
<text x="66.2" y="796.6" text-anchor="end" font-size="20.8">0.9</text>
<text x="66.2" y="749" text-anchor="end" font-size="20.8">1.0</text>
<text x="66.2" y="701.4" text-anchor="end" font-size="20.8">1.1</text>
<text x="66.2" y="653.8" text-anchor="end" font-size="20.8">1.2</text>
<text x="66.2" y="606.2" text-anchor="end" font-size="20.8">1.3</text>
<text x="139.9" y="1082.6" text-anchor="middle">0.065</text>
<text x="258.4" y="1082.6" text-anchor="middle">0.070</text>
<text x="376.9" y="1082.6" text-anchor="middle">0.075</text>
<text x="495.4" y="1082.6" text-anchor="middle">0.080</text>
<text x="613.9" y="1082.6" text-anchor="middle">0.085</text>
</g>
<text x="377.5" y="1116.2" font-size="20.5" text-anchor="middle">C<tspan font-size="12.5" dy="3">e</tspan><tspan dy="-3"> (mg/L)</tspan></text>
<text transform="translate(28.3 813.4) rotate(-90)" font-size="20.5" text-anchor="middle">q<tspan font-size="14" dy="4">e</tspan><tspan dy="-4"> (mg/g)</tspan></text>
<text x="619" y="1022.5" font-size="27.5">(a)</text>
<path d="M142.98 1000.65V1021.01M138.48 1000.65h9M138.48 1021.01h9M230.91 906.77V935.9M226.41 906.77h9M226.41 935.9h9M394.91 775.95V817.3M390.41 775.95h9M390.41 817.3h9M603.71 590.45V649.13M599.21 590.45h9M599.21 649.13h9" fill="none" stroke="#333" stroke-width="1"/>
<rect x="137.18" y="1005.03" width="11.6" height="11.6" fill="#fff" stroke="#000" stroke-width="2.2"/>
<rect x="225.11" y="915.54" width="11.6" height="11.6" fill="#fff" stroke="#000" stroke-width="2.2"/>
<rect x="389.11" y="790.83" width="11.6" height="11.6" fill="#fff" stroke="#000" stroke-width="2.2"/>
<rect x="597.91" y="613.99" width="11.6" height="11.6" fill="#fff" stroke="#000" stroke-width="2.2"/>
<rect x="322.2" y="712.6" width="11" height="11" fill="none" stroke="#ff0000" stroke-width="2"/>
<path d="M142.27 1003.45 L148.12 999.52 L153.97 995.5 L159.82 991.38 L165.67 987.18 L171.52 982.89 L177.37 978.51 L183.22 974.06 L189.07 969.53 L194.92 964.94 L200.77 960.27 L206.62 955.53 L212.47 950.74 L218.32 945.89 L224.17 940.98 L230.02 936.02 L235.87 931.01 L241.72 925.95 L247.57 920.85 L253.42 915.72 L259.27 910.55 L265.12 905.35 L270.97 900.12 L276.82 894.86 L282.67 889.59 L288.52 884.29 L294.37 878.98 L300.22 873.66 L306.07 868.33 L311.92 862.99 L317.77 857.65 L323.62 852.31 L329.47 846.97 L335.32 841.63 L341.17 836.31 L347.02 830.99 L352.87 825.69 L358.72 820.4 L364.57 815.13 L370.42 809.89 L376.27 804.67 L382.12 799.48 L387.97 794.32 L393.82 789.19 L399.67 784.09 L405.52 779.04 L411.37 774.02 L417.22 769.03 L423.07 764.07 L428.92 759.15 L434.77 754.25 L440.62 749.38 L446.47 744.54 L452.32 739.73 L458.17 734.93 L464.02 730.17 L469.87 725.42 L475.72 720.7 L481.57 715.99 L487.42 711.3 L493.27 706.63 L499.12 701.97 L504.97 697.33 L510.82 692.7 L516.67 688.08 L522.52 683.48 L528.37 678.88 L534.22 674.29 L540.07 669.7 L545.92 665.12 L551.77 660.55 L557.62 655.97 L563.47 651.4 L569.32 646.83 L575.17 642.25 L581.02 637.68 L586.87 633.1 L592.72 628.51 L598.57 623.92 L604.42 619.32" fill="none" stroke="#6e1010" stroke-width="1.6" stroke-dasharray="7 3.1 1.6 3.1"/>
<path d="M142.27 985.84 L148.12 982.62 L153.97 979.36 L159.82 976.08 L165.67 972.76 L171.52 969.41 L177.37 966.03 L183.22 962.61 L189.07 959.16 L194.92 955.68 L200.77 952.16 L206.62 948.61 L212.47 945.03 L218.32 941.41 L224.17 937.75 L230.02 934.07 L235.87 930.34 L241.72 926.58 L247.57 922.79 L253.42 918.96 L259.27 915.09 L265.12 911.19 L270.97 907.25 L276.82 903.28 L282.67 899.27 L288.52 895.22 L294.37 891.14 L300.22 887.01 L306.07 882.85 L311.92 878.66 L317.77 874.42 L323.62 870.15 L329.47 865.84 L335.32 861.49 L341.17 857.1 L347.02 852.67 L352.87 848.2 L358.72 843.7 L364.57 839.15 L370.42 834.57 L376.27 829.94 L382.12 825.28 L387.97 820.57 L393.82 815.82 L399.67 811.04 L405.52 806.21 L411.37 801.34 L417.22 796.42 L423.07 791.47 L428.92 786.48 L434.77 781.44 L440.62 776.36 L446.47 771.23 L452.32 766.07 L458.17 760.86 L464.02 755.61 L469.87 750.31 L475.72 744.97 L481.57 739.59 L487.42 734.16 L493.27 728.69 L499.12 723.17 L504.97 717.61 L510.82 712.01 L516.67 706.35 L522.52 700.66 L528.37 694.91 L534.22 689.12 L540.07 683.29 L545.92 677.41 L551.77 671.48 L557.62 665.5 L563.47 659.48 L569.32 653.41 L575.17 647.29 L581.02 641.13 L586.87 634.92 L592.72 628.65 L598.57 622.34 L604.42 615.98" fill="none" stroke="#1010ff" stroke-width="1.8" stroke-dasharray="9.3 9.1"/>
<path d="M142.27 988.23 L148.12 984.83 L153.97 981.4 L159.82 977.93 L165.67 974.43 L171.52 970.9 L177.37 967.34 L183.22 963.74 L189.07 960.11 L194.92 956.45 L200.77 952.76 L206.62 949.03 L212.47 945.27 L218.32 941.48 L224.17 937.66 L230.02 933.8 L235.87 929.91 L241.72 925.98 L247.57 922.02 L253.42 918.03 L259.27 914.01 L265.12 909.95 L270.97 905.86 L276.82 901.73 L282.67 897.57 L288.52 893.38 L294.37 889.15 L300.22 884.89 L306.07 880.6 L311.92 876.27 L317.77 871.9 L323.62 867.5 L329.47 863.07 L335.32 858.61 L341.17 854.1 L347.02 849.57 L352.87 845 L358.72 840.39 L364.57 835.75 L370.42 831.08 L376.27 826.37 L382.12 821.63 L387.97 816.85 L393.82 812.03 L399.67 807.18 L405.52 802.3 L411.37 797.38 L417.22 792.42 L423.07 787.44 L428.92 782.41 L434.77 777.35 L440.62 772.25 L446.47 767.12 L452.32 761.96 L458.17 756.75 L464.02 751.52 L469.87 746.24 L475.72 740.93 L481.57 735.59 L487.42 730.21 L493.27 724.79 L499.12 719.34 L504.97 713.85 L510.82 708.33 L516.67 702.77 L522.52 697.17 L528.37 691.54 L534.22 685.87 L540.07 680.17 L545.92 674.43 L551.77 668.65 L557.62 662.84 L563.47 656.99 L569.32 651.11 L575.17 645.19 L581.02 639.23 L586.87 633.24 L592.72 627.21 L598.57 621.15 L604.42 615.04" fill="none" stroke="#e010e8" stroke-width="1.8" stroke-dasharray="9.3 9.1"/>
<path d="M142.27 1003.45 L148.12 999.52 L153.97 995.5 L159.82 991.38 L165.67 987.18 L171.52 982.89 L177.37 978.51 L183.22 974.06 L189.07 969.53 L194.92 964.94 L200.77 960.27 L206.62 955.53 L212.47 950.74 L218.32 945.89 L224.17 940.98 L230.02 936.02 L235.87 931.01 L241.72 925.95 L247.57 920.85 L253.42 915.72 L259.27 910.55 L265.12 905.35 L270.97 900.12 L276.82 894.86 L282.67 889.59 L288.52 884.29 L294.37 878.98 L300.22 873.66 L306.07 868.33 L311.92 862.99 L317.77 857.65 L323.62 852.31 L329.47 846.97 L335.32 841.63 L341.17 836.31 L347.02 830.99 L352.87 825.69 L358.72 820.4 L364.57 815.13 L370.42 809.89 L376.27 804.67 L382.12 799.48 L387.97 794.32 L393.82 789.19 L399.67 784.09 L405.52 779.04 L411.37 774.02 L417.22 769.03 L423.07 764.07 L428.92 759.15 L434.77 754.25 L440.62 749.38 L446.47 744.54 L452.32 739.73 L458.17 734.93 L464.02 730.17 L469.87 725.42 L475.72 720.7 L481.57 715.99 L487.42 711.3 L493.27 706.63 L499.12 701.97 L504.97 697.33 L510.82 692.7 L516.67 688.08 L522.52 683.48 L528.37 678.88 L534.22 674.29 L540.07 669.7 L545.92 665.12 L551.77 660.55 L557.62 655.97 L563.47 651.4 L569.32 646.83 L575.17 642.25 L581.02 637.68 L586.87 633.1 L592.72 628.51 L598.57 623.92 L604.42 619.32" fill="none" stroke="#10e010" stroke-width="1.8" stroke-dasharray="9.3 9.1"/>
<path d="M142.27 1011.06 L148.12 1005.48 L153.97 999.92 L159.82 994.37 L165.67 988.85 L171.52 983.35 L177.37 977.87 L183.22 972.41 L189.07 966.97 L194.92 961.55 L200.77 956.15 L206.62 950.77 L212.47 945.41 L218.32 940.07 L224.17 934.74 L230.02 929.44 L235.87 924.16 L241.72 918.89 L247.57 913.64 L253.42 908.41 L259.27 903.21 L265.12 898.01 L270.97 892.84 L276.82 887.69 L282.67 882.55 L288.52 877.43 L294.37 872.33 L300.22 867.24 L306.07 862.18 L311.92 857.13 L317.77 852.09 L323.62 847.08 L329.47 842.08 L335.32 837.1 L341.17 832.14 L347.02 827.19 L352.87 822.26 L358.72 817.34 L364.57 812.44 L370.42 807.56 L376.27 802.7 L382.12 797.85 L387.97 793.01 L393.82 788.19 L399.67 783.39 L405.52 778.6 L411.37 773.83 L417.22 769.07 L423.07 764.33 L428.92 759.61 L434.77 754.9 L440.62 750.2 L446.47 745.52 L452.32 740.85 L458.17 736.2 L464.02 731.57 L469.87 726.94 L475.72 722.34 L481.57 717.74 L487.42 713.16 L493.27 708.6 L499.12 704.05 L504.97 699.51 L510.82 694.99 L516.67 690.48 L522.52 685.98 L528.37 681.5 L534.22 677.03 L540.07 672.58 L545.92 668.14 L551.77 663.71 L557.62 659.29 L563.47 654.89 L569.32 650.5 L575.17 646.13 L581.02 641.77 L586.87 637.42 L592.72 633.08 L598.57 628.75 L604.42 624.44" fill="none" stroke="#ff69b4" stroke-width="1.8" stroke-dasharray="9.3 9.1"/>
<path d="M142.27 942.52 L148.12 941.48 L153.97 940.45 L159.82 939.41 L165.67 938.37 L171.52 937.34 L177.37 936.3 L183.22 935.27 L189.07 934.23 L194.92 933.19 L200.77 932.16 L206.62 931.12 L212.47 930.08 L218.32 929.05 L224.17 928.01 L230.02 926.97 L235.87 925.94 L241.72 924.9 L247.57 923.87 L253.42 922.83 L259.27 921.79 L265.12 920.76 L270.97 919.72 L276.82 918.68 L282.67 917.65 L288.52 916.61 L294.37 915.57 L300.22 914.54 L306.07 913.5 L311.92 912.47 L317.77 911.43 L323.62 910.39 L329.47 909.36 L335.32 908.32 L341.17 907.28 L347.02 906.25 L352.87 905.21 L358.72 904.17 L364.57 903.14 L370.42 902.1 L376.27 901.07 L382.12 900.03 L387.97 898.99 L393.82 897.96 L399.67 896.92 L405.52 895.88 L411.37 894.85 L417.22 893.81 L423.07 892.77 L428.92 891.74 L434.77 890.7 L440.62 889.67 L446.47 888.63 L452.32 887.59 L458.17 886.56 L464.02 885.52 L469.87 884.48 L475.72 883.45 L481.57 882.41 L487.42 881.38 L493.27 880.34 L499.12 879.3 L504.97 878.27 L510.82 877.23 L516.67 876.19 L522.52 875.16 L528.37 874.12 L534.22 873.08 L540.07 872.05 L545.92 871.01 L551.77 869.98 L557.62 868.94 L563.47 867.9 L569.32 866.87 L575.17 865.83 L581.02 864.79 L586.87 863.76 L592.72 862.72 L598.57 861.68 L604.42 860.65" fill="none" stroke="#2a6a0a" stroke-width="1.8" stroke-dasharray="9.3 9.1"/>
<rect x="99.2" y="582.7" width="11.6" height="11.6" fill="none" stroke="#000" stroke-width="2.2"/>
<text x="133.3" y="595" font-size="20.2">Experimental data</text>
<path d="M82 612.4H129" stroke="#6e1010" stroke-width="1.6" stroke-dasharray="7 3.1 1.6 3.1" stroke-dashoffset="0" fill="none"/>
<text x="133.3" y="620" font-size="20.2" fill="#7a0e0e">Sips</text>
<path d="M82 637.2H129" stroke="#1010ff" stroke-width="1.9" stroke-dasharray="11 9" stroke-dashoffset="4" fill="none"/>
<text x="133.3" y="644.8" font-size="20.2" fill="#0000ff">Freundlish</text>
<path d="M82 662H129" stroke="#e010e8" stroke-width="1.9" stroke-dasharray="11 9" stroke-dashoffset="4" fill="none"/>
<text x="133.3" y="669.6" font-size="20.2" fill="#e000e8">Dubinin–Radushkevich</text>
<path d="M82 686.8H129" stroke="#10e010" stroke-width="1.9" stroke-dasharray="11 9" stroke-dashoffset="4" fill="none"/>
<text x="133.3" y="694.4" font-size="20.2" fill="#00e000">Hill</text>
<path d="M82 711.6H129" stroke="#ff69b4" stroke-width="1.9" stroke-dasharray="11 9" stroke-dashoffset="4" fill="none"/>
<text x="133.3" y="719.2" font-size="20.2" fill="#ff69b4">Temkin</text>
<path d="M82 736.4H129" stroke="#2a6a0a" stroke-width="1.9" stroke-dasharray="11 9" stroke-dashoffset="4" fill="none"/>
<text x="133.3" y="744" font-size="20.2" fill="#2a6a0a">Langmuir</text>
</g>
</svg>
</body>
</html>
